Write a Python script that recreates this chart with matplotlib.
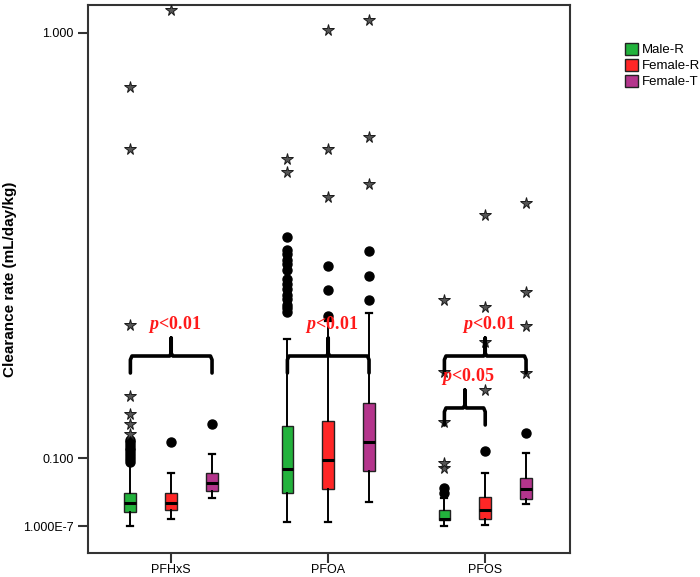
import numpy as np
import matplotlib.pyplot as plt
from matplotlib.patches import Patch

plt.rcParams["font.family"] = ["Liberation Sans", "DejaVu Sans"]
plt.rcParams["mathtext.fontset"] = "custom"
plt.rcParams["mathtext.it"] = "Liberation Serif:italic:bold"
plt.rcParams["mathtext.rm"] = "Liberation Serif:bold"

# values are in the chart's own (SPSS) axis units
compounds = ["PFHxS", "PFOA", "PFOS"]
groups = ["Male-R", "Female-R", "Female-T"]
colors = ["#22b23c", "#ff2626", "#b4358c"]

ytick_vals = [1.0, 0.1, -0.044]
ytick_labels = ["1.000", "0.100", "1.000E-7"]

# [whislo, q1, med, q3, whishi] per compound, per group
box_stats = {
    "PFHxS": [[-0.044, -0.015, 0.005, 0.027, 0.095],
              [-0.028, -0.010, 0.005, 0.027, 0.069],
              [0.015, 0.031, 0.048, 0.069, 0.108]],
    "PFOA": [[-0.036, 0.027, 0.076, 0.168, 0.352],
             [-0.036, 0.034, 0.095, 0.179, 0.390],
             [0.006, 0.073, 0.134, 0.216, 0.406]],
    "PFOS": [[-0.043, -0.031, -0.028, -0.010, 0.015],
             [-0.042, -0.028, -0.009, 0.017, 0.069],
             [0.002, 0.013, 0.034, 0.057, 0.110]],
}

# outliers (circles)
circles = {
    "PFHxS": [[0.092, 0.098, 0.104, 0.110, 0.116, 0.122, 0.128, 0.134, 0.138],
              [0.133],
              [0.172]],
    "PFOA": [[0.410, 0.417, 0.423, 0.436, 0.446, 0.457, 0.468, 0.478,
              0.499, 0.510, 0.520, 0.531, 0.541, 0.568],
             [0.401, 0.455, 0.507],
             [0.434, 0.485, 0.538]],
    "PFOS": [[0.026, 0.036],
             [0.115],
             [0.154]],
}

# extremes (stars)
stars = {
    "PFHxS": [[0.151, 0.172, 0.193, 0.231, 0.382, 0.754, 0.886],
              [1.049],
              []],
    "PFOA": [[0.706, 0.733],
             [0.652, 0.754, 1.006],
             [0.680, 0.780, 1.028]],
    "PFOS": [[0.079, 0.090, 0.177, 0.283, 0.435],
             [0.244, 0.346, 0.420, 0.615],
             [0.279, 0.380, 0.452, 0.640]],
}

# significance brackets: (compound, first group, last group, label, level)
brackets = [
    ("PFHxS", 0, 2, "0.01", 0.316),
    ("PFOA", 0, 2, "0.01", 0.316),
    ("PFOS", 0, 2, "0.01", 0.316),
    ("PFOS", 0, 1, "0.05", 0.206),
]

offsets = [-0.26, 0.0, 0.26]
width = 0.075

fig = plt.figure(figsize=(7, 5.77), dpi=100)
ax = fig.add_axes([0.1257, 0.0416, 0.6886, 0.9497])

for ci, comp in enumerate(compounds):
    for gi in range(3):
        x = ci + offsets[gi]
        lo, q1, med, q3, hi = box_stats[comp][gi]
        stat = dict(whislo=lo, q1=q1, med=med, q3=q3, whishi=hi, fliers=[])
        ax.bxp([stat], positions=[x], widths=width, patch_artist=True,
               showfliers=False,
               boxprops=dict(facecolor=colors[gi], edgecolor="#222222", linewidth=1.0),
               medianprops=dict(color="black", linewidth=2.2),
               whiskerprops=dict(color="black", linewidth=1.4),
               capprops=dict(color="black", linewidth=1.6),
               capwidths=width * 0.5)
        c = circles[comp][gi]
        ax.plot([x] * len(c), c, "o", color="black", markersize=6.5, zorder=3)
        s = stars[comp][gi]
        ax.plot([x] * len(s), s, "*", markerfacecolor="#555555",
                markeredgecolor="#1a1a1a", markeredgewidth=0.7,
                markersize=8.5, zorder=3)

for comp, g0, g1, label, level in brackets:
    ci = compounds.index(comp)
    x0 = ci + offsets[g0]
    x1 = ci + offsets[g1]
    xm = (x0 + x1) / 2
    drop = 0.036
    tip = 0.038
    bx = [x0, x0, x0 + 0.01, xm - 0.01, xm, xm, xm, xm + 0.01, x1 - 0.01, x1, x1]
    by = [level - drop, level - 0.008, level, level, level + 0.006, level + tip,
          level + 0.006, level, level, level - 0.008, level - drop]
    ax.plot(bx, by, color="black", linewidth=2.6, solid_capstyle="round",
            solid_joinstyle="round", zorder=4)
    ax.text(xm + 0.02, level + tip + 0.006, r"$\mathit{p}$<" + label,
            color="#ff1a1a", fontsize=13, fontweight="bold",
            fontfamily="Liberation Serif", ha="center", va="bottom", zorder=5)

ax.set_xlim(-0.53, 2.54)
ax.set_ylim(-0.101, 1.059)
ax.set_xticks(range(len(compounds)))
ax.set_xticklabels(compounds, fontsize=9)
ax.set_yticks(ytick_vals)
ax.set_yticklabels(ytick_labels, fontsize=9)
ax.tick_params(direction="out", length=7, width=1.5, color="#333333")
ax.tick_params(axis="x", pad=1)
for sp in ax.spines.values():
    sp.set_linewidth(1.5)
    sp.set_color("#333333")
ax.set_ylabel("Clearance rate (mL/day/kg)", fontsize=11, fontweight="bold",
              labelpad=4)

handles = [Patch(facecolor=col, edgecolor="#222222", label=g)
           for g, col in zip(groups, colors)]
fig.legend(handles=handles, loc="upper left", bbox_to_anchor=(0.885, 0.935),
           frameon=False, fontsize=9.5, handlelength=1.0, handleheight=1.0,
           handletextpad=0.3, labelspacing=0.2, borderaxespad=0)

fig.savefig("out.png", dpi=100)
